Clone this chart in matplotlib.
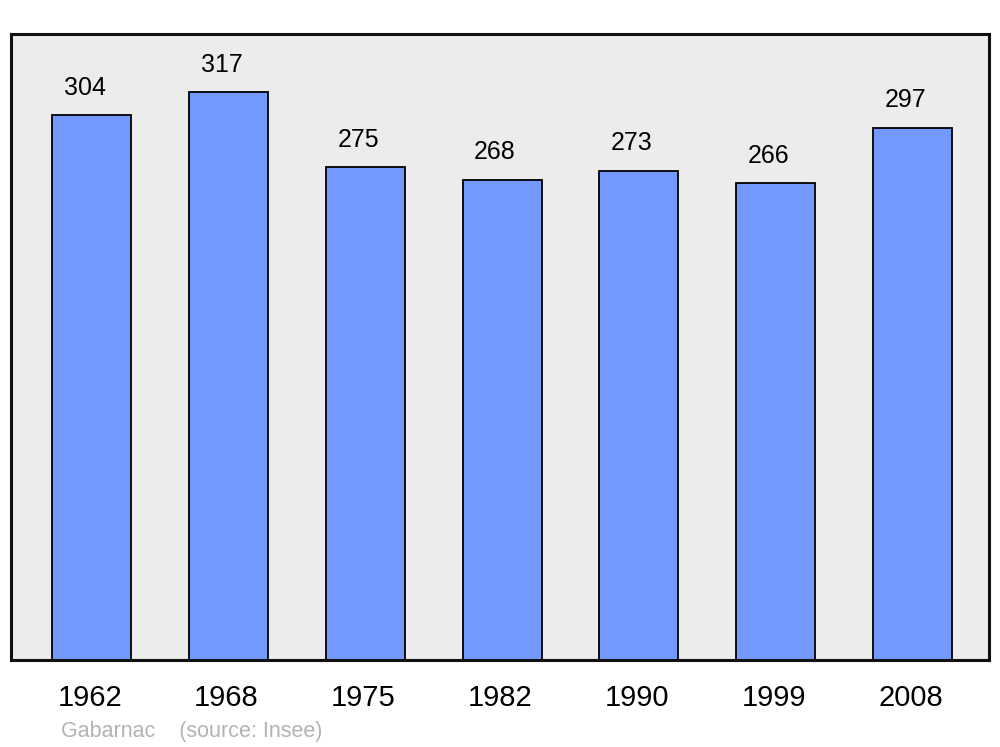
import matplotlib
matplotlib.use("Agg")
import matplotlib.pyplot as plt
from matplotlib.transforms import ScaledTranslation

plt.rcParams['font.family'] = ['Liberation Sans', 'DejaVu Sans']

years = ["1962", "1968", "1975", "1982", "1990", "1999", "2008"]
population = [304, 317, 275, 268, 273, 266, 297]

W, H = 1000, 747
fig = plt.figure(figsize=(W / 100, H / 100), dpi=100)
fig.patch.set_facecolor("white")

# axes box in pixels: x 11..989, y 34..660
ax = fig.add_axes([11 / W, 1 - 660 / H, 978 / W, 626 / H])
ax.set_facecolor("#ececec")
ax.set_xlim(-0.59, 6.56)
ax.set_ylim(0, 349.3)

x = list(range(len(years)))
bars = ax.bar(x, population, width=0.577, color="#7399ff",
              edgecolor="black", linewidth=1.3, zorder=2)

for xi, v in zip(x, population):
    ax.annotate(str(v), (xi, v), xytext=(-5, 11), textcoords="offset points",
                ha="center", va="bottom", fontsize=18, color="black")

ax.set_xticks(x)
ax.set_xticklabels(years, fontsize=21)
ax.tick_params(axis="x", length=0, pad=17)
offset = ScaledTranslation(-2 / 100, 0, fig.dpi_scale_trans)
for lbl in ax.get_xticklabels():
    lbl.set_transform(lbl.get_transform() + offset)
ax.set_yticks([])
for s in ax.spines.values():
    s.set_linewidth(2.2)
    s.set_color("#111111")

fig.text(61 / W, 1 - 731 / H, "Gabarnac    (source: Insee)", fontsize=15.5,
         color="#b3b3b3", ha="left", va="center")

fig.savefig("out.png", dpi=100, facecolor="white")
